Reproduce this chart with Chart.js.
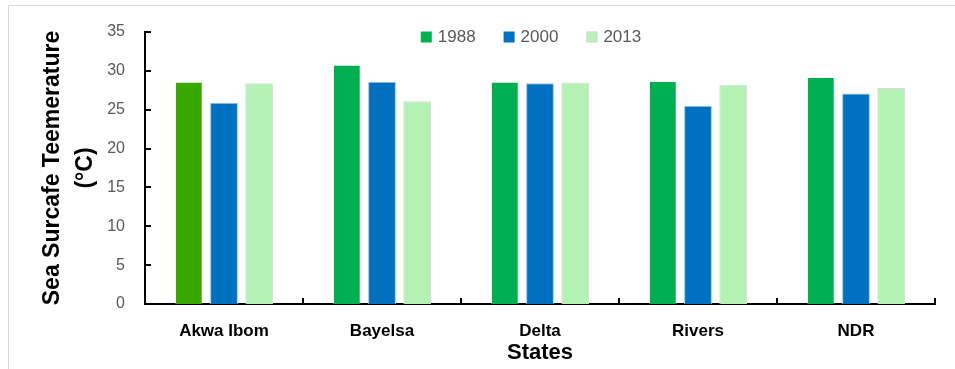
<!DOCTYPE html>
<html>
<head>
<meta charset="utf-8">
<script src="https://cdn.jsdelivr.net/npm/chart.js@4/dist/chart.umd.min.js"></script>
<style>
  html, body { margin: 0; padding: 0; background: #fff; }
  #wrap { width: 955px; height: 369px; position: relative; }
</style>
</head>
<body>
<div id="wrap"><canvas id="c" width="955" height="369"></canvas></div>
<script>
const categories = ["Akwa Ibom", "Bayelsa", "Delta", "Rivers", "NDR"];
const seriesNames = ["1988", "2000", "2013"];
const values1988 = [28.6, 30.8, 28.6, 28.7, 29.2];
const values2000 = [25.9, 28.6, 28.4, 25.5, 27.1];
const values2013 = [28.4, 26.1, 28.5, 28.2, 27.8];
const yTickValues = [0, 5, 10, 15, 20, 25, 30, 35];

const FONT = "'Liberation Sans', Arial, sans-serif";
const colors1988 = ["#38A800", "#00B050", "#00B050", "#00B050", "#00B050"];

const frame = {
  id: 'frame',
  beforeDraw(chart) {
    const ctx = chart.ctx;
    ctx.save();
    ctx.strokeStyle = '#D9D9D9';
    ctx.lineWidth = 1;
    ctx.beginPath();
    ctx.moveTo(8.5, 369);
    ctx.lineTo(8.5, 5.5);
    ctx.lineTo(955, 5.5);
    ctx.stroke();
    ctx.restore();
  }
};

const inwardTicks = {
  id: 'inwardTicks',
  afterDraw(chart) {
    const ctx = chart.ctx;
    const ys = chart.scales.y, xs = chart.scales.x;
    const area = chart.chartArea;
    ctx.save();
    ctx.strokeStyle = '#000';
    ctx.lineWidth = 2;
    ctx.beginPath();
    ys.ticks.forEach(t => {
      const py = Math.round(ys.getPixelForValue(t.value));
      ctx.moveTo(area.left, py);
      ctx.lineTo(area.left + 6, py);
    });
    const n = categories.length;
    const w = (area.right - area.left) / n;
    for (let i = 1; i <= n; i++) {
      const px = Math.round(xs.getPixelForValue(i - 1) + w / 2);
      ctx.moveTo(px, area.bottom);
      ctx.lineTo(px, area.bottom - 6);
    }
    ctx.stroke();
    ctx.restore();
  }
};

const customLegend = {
  id: 'customLegend',
  afterDraw(chart) {
    const ctx = chart.ctx;
    const area = chart.chartArea;
    ctx.save();
    ctx.font = "17px " + FONT;
    ctx.textBaseline = 'middle';
    const box = 11, gap = 6, itemGap = 28;
    const ds = chart.data.datasets;
    const widths = ds.map(d => ctx.measureText(d.label).width);
    let total = 0;
    widths.forEach((w, i) => { total += box + gap + w + (i < widths.length - 1 ? itemGap : 0); });
    let x = (area.left + area.right) / 2 - total / 2 - 9;
    const cy = area.top + 5;
    ds.forEach((d, i) => {
      ctx.fillStyle = i === 0 ? '#00B050' : d.backgroundColor;
      ctx.fillRect(x, cy - box / 2, box, box);
      if (i === 2) {
        ctx.strokeStyle = '#DADADA';
        ctx.lineWidth = 1;
        ctx.strokeRect(x + 0.5, cy - box / 2 + 0.5, box - 1, box - 1);
      }
      x += box + gap;
      ctx.fillStyle = '#595959';
      ctx.fillText(d.label, x, cy);
      x += widths[i] + itemGap;
    });
    ctx.restore();
  }
};

new Chart(document.getElementById('c'), {
  type: 'bar',
  data: {
    labels: categories,
    datasets: [
      { label: seriesNames[0], data: values1988, backgroundColor: colors1988, borderColor: 'rgba(255,255,255,0.35)', borderWidth: 1 },
      { label: seriesNames[1], data: values2000, backgroundColor: '#0070C0', borderColor: '#9CC2E5', borderWidth: 1 },
      { label: seriesNames[2], data: values2013, backgroundColor: '#B3F2B3', borderColor: '#DADADA', borderWidth: 1 }
    ]
  },
  options: {
    responsive: false,
    animation: false,
    devicePixelRatio: 1,
    layout: { padding: { left: 0, right: 20, top: 32, bottom: 0 } },
    datasets: { bar: { categoryPercentage: 0.668, barPercentage: 0.79 } },
    plugins: {
      legend: { display: false },
      tooltip: { enabled: false }
    },
    scales: {
      x: {
        grid: { display: false, drawTicks: false },
        border: { display: true, color: '#000', width: 2 },
        ticks: { color: '#000', font: { family: FONT, size: 17, weight: 'bold' }, padding: 17, maxRotation: 0 },
        title: { display: true, text: 'States', color: '#000', font: { family: FONT, size: 22, weight: 'bold' }, padding: { top: 0, bottom: 3 } },
        afterFit(scale) { scale.height = 65; }
      },
      y: {
        min: 0, max: 35,
        afterBuildTicks(scale) { scale.ticks = yTickValues.map(v => ({ value: v })); },
        grid: { display: false, drawTicks: false },
        border: { display: true, color: '#000', width: 2 },
        ticks: { color: '#595959', font: { family: FONT, size: 16 }, padding: 20 },
        title: {
          display: true,
          text: ['Sea Surcafe Teemerature', '(°C)'],
          color: '#000',
          font: { family: FONT, size: 23, weight: 'bold', lineHeight: 1.4 },
          padding: { top: 37, bottom: 0 }
        },
        afterFit(scale) { scale.width = 145; }
      }
    }
  },
  plugins: [frame, inwardTicks, customLegend]
});
</script>
</body>
</html>
